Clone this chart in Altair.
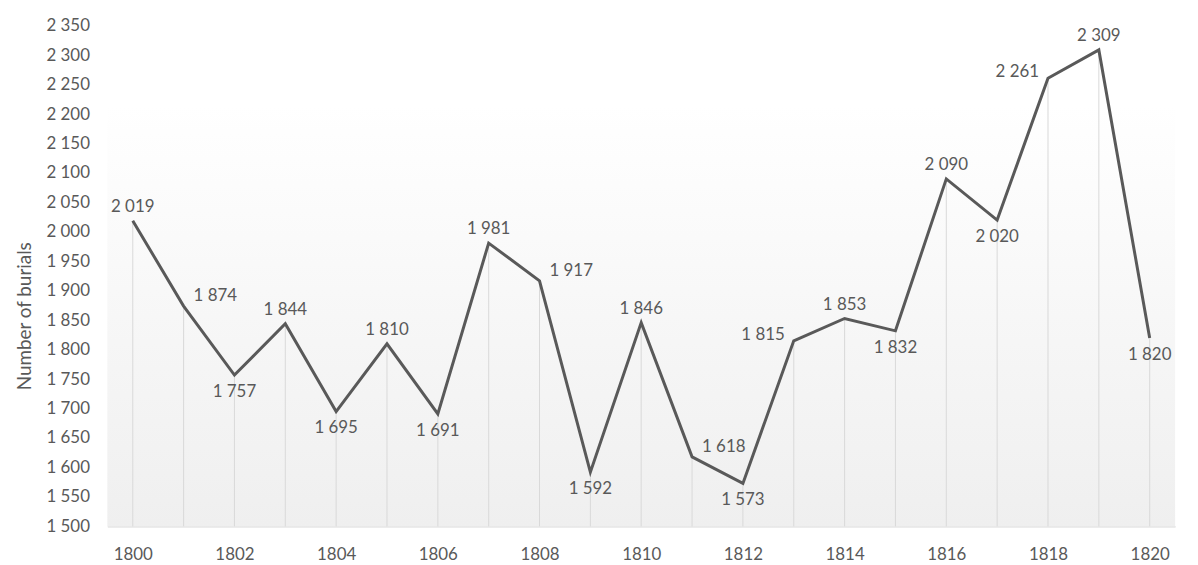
import altair as alt
import pandas as pd

years = list(range(1800, 1821))
burials = [2019, 1874, 1757, 1844, 1695, 1810, 1691, 1981, 1917, 1592,
           1846, 1618, 1573, 1815, 1853, 1832, 2090, 2020, 2261, 2309, 1820]
label_side = ["above", "right", "below", "above", "below", "above", "below",
              "above", "right", "below", "above", "right", "below", "left",
              "above", "below", "above", "below", "left", "above", "below"]
y_ticks = list(range(1500, 2351, 50))
x_ticks = list(range(1800, 1821, 2))

Y_MIN, Y_MAX = 1500, 2350
X_MIN, X_MAX = 1799.5, 1820.5

def fmt(v):
    s = f"{v:,}"
    return s.replace(",", " ")

df = pd.DataFrame({
    "year": years,
    "burials": burials,
    "label": [fmt(v) for v in burials],
    "side": label_side,
    "base": [Y_MIN] * len(years),
})

bg_df = pd.DataFrame({"x": [X_MIN], "x2": [X_MAX], "y": [Y_MIN], "y2": [Y_MAX]})

FONT = "Lato"
TXT = "#595959"

xscale = alt.Scale(domain=[X_MIN, X_MAX], nice=False, zero=False)
yscale = alt.Scale(domain=[Y_MIN, Y_MAX], nice=False, zero=False)

xaxis = alt.Axis(values=x_ticks, format="d",
                 title=None, ticks=False, grid=False,
                 domainColor="#d9d9d9", domainWidth=1.5,
                 labelFont=FONT, labelFontSize=17, labelColor=TXT,
                 labelPadding=20, labelOverlap=False)
yaxis = alt.Axis(values=y_ticks, tickCount=len(y_ticks),
                 labelExpr="floor(datum.value/1000) + ' ' + format(datum.value % 1000, '03d')",
                 title="Number of burials", titleFont=FONT,
                 titleFontSize=19, titleFontWeight="normal",
                 titleColor=TXT, titlePadding=12, titleY=292,
                 ticks=False, domain=False, grid=False,
                 labelFont=FONT, labelFontSize=17, labelColor=TXT,
                 labelPadding=18, labelOverlap=False, labelBound=False)

bg = alt.Chart(bg_df).mark_rect(
    color=alt.LinearGradient(
        gradient="linear", x1=0, y1=0, x2=0, y2=1,
        stops=[alt.GradientStop(color="#ffffff", offset=0),
               alt.GradientStop(color="#ffffff", offset=0.16),
               alt.GradientStop(color="#efefef", offset=1)]),
).encode(
    x=alt.X("x:Q", scale=xscale, axis=xaxis),
    x2="x2:Q",
    y=alt.Y("y:Q", scale=yscale, axis=yaxis),
    y2="y2:Q",
)

base = alt.Chart(df)

drops = base.mark_rule(color="#d9d9d9", strokeWidth=1).encode(
    x=alt.X("year:Q", scale=xscale, axis=xaxis),
    y=alt.Y("burials:Q", scale=yscale, axis=yaxis),
    y2="base:Q",
)

line = base.mark_line(color="#595959", strokeWidth=3, strokeJoin="miter").encode(
    x=alt.X("year:Q", scale=xscale, axis=xaxis),
    y=alt.Y("burials:Q", scale=yscale, axis=yaxis),
)

offsets = {
    "above": dict(dx=0, dy=-14, align="center"),
    "below": dict(dx=0, dy=17, align="center"),
    "right": dict(dx=10, dy=-10, align="left"),
    "left": dict(dx=-9, dy=-6, align="right"),
}

texts = []
for side, o in offsets.items():
    texts.append(
        base.transform_filter(alt.datum.side == side).mark_text(
            font=FONT, fontSize=17, color=TXT, baseline="middle", **o
        ).encode(
            x=alt.X("year:Q", scale=xscale, axis=xaxis),
            y=alt.Y("burials:Q", scale=yscale, axis=yaxis),
            text="label:N",
        )
    )

chart = alt.layer(bg, drops, line, *texts).properties(
    width=1075, height=504,
    autosize=alt.AutoSizeParams(type="none"),
    padding={"left": 100, "top": 16, "right": 15, "bottom": 37},
).configure_view(stroke=None)

chart.save("out.html", embed_options={"renderer": "svg", "actions": False})
